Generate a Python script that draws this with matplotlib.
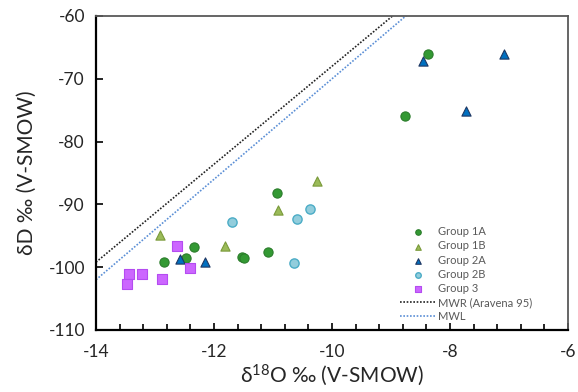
import numpy as np
import matplotlib.pyplot as plt
from matplotlib.ticker import MultipleLocator

plt.rcParams['font.family'] = ['Lato', 'DejaVu Sans']
plt.rcParams['mathtext.default'] = 'regular'
plt.rcParams['axes.unicode_minus'] = False

# ---------------- data ----------------
g1a_x = [-10.93, -12.84, -12.47, -12.34, -11.53, -11.49, -11.08, -8.37, -8.77]
g1a_y = [-88.2, -99.2, -98.6, -96.8, -98.3, -98.6, -97.6, -66.0, -75.9]

g1b_x = [-10.25, -10.92, -12.91, -11.81]
g1b_y = [-86.2, -90.9, -94.8, -96.7]

g2a_x = [-12.58, -12.16, -8.45, -7.09, -7.73]
g2a_y = [-98.7, -99.2, -67.1, -66.1, -75.2]

g2b_x = [-11.70, -10.60, -10.38, -10.64]
g2b_y = [-92.8, -92.3, -90.7, -99.4]

g3_x = [-12.63, -12.40, -13.44, -13.22, -12.88, -13.48]
g3_y = [-96.6, -100.2, -101.1, -101.1, -101.8, -102.7]

# meteoric water lines: dD = slope * d18O + intercept
mwr_slope, mwr_int = 7.8, 10.0   # MWR (Aravena 95)
mwl_slope, mwl_int = 8.0, 10.0   # MWL

# ---------------- plot ----------------
fig = plt.figure(figsize=(5.78, 3.92), dpi=100)
ax = fig.add_axes([96 / 578, 1 - 330 / 392, 472 / 578, 314 / 392])

s = 44
ax.scatter(g1a_x, g1a_y, s=s, marker='o', color='#339933', edgecolor='#2b7d2b',
           linewidth=0.8, label='Group 1A', zorder=3)
ax.scatter(g1b_x, g1b_y, s=s, marker='^', color='#9bbb59', edgecolor='#7a9a3a',
           linewidth=0.8, label='Group 1B', zorder=3)
ax.scatter(g2a_x, g2a_y, s=s, marker='^', color='#0070c0', edgecolor='#1f3864',
           linewidth=0.8, label='Group 2A', zorder=3)
ax.scatter(g2b_x, g2b_y, s=s, marker='o', color='#92cddc', edgecolor='#4bacc6',
           linewidth=1.0, label='Group 2B', zorder=3)
ax.scatter(g3_x, g3_y, s=s, marker='s', color='#cc66ff', edgecolor='#b44cf0',
           linewidth=0.8, label='Group 3', zorder=3)

xl = np.array([-14, -6])
ax.plot(xl, mwr_slope * xl + mwr_int, color='#222222', linestyle=(0, (1, 1)),
        linewidth=1.2, label='MWR (Aravena 95)', zorder=2)
ax.plot(xl, mwl_slope * xl + mwl_int, color='#5b8fd6', linestyle=(0, (1, 1)),
        linewidth=1.2, label='MWL', zorder=2)

ax.set_xlim(-14, -6)
ax.set_ylim(-110, -60)
ax.xaxis.set_major_locator(MultipleLocator(2))
ax.xaxis.set_minor_locator(MultipleLocator(0.4))
ax.yaxis.set_major_locator(MultipleLocator(10))

ax.tick_params(axis='both', which='both', direction='in', colors='black',
               labelcolor='#262626', labelsize=12.5)
ax.tick_params(axis='x', which='major', length=5, width=1.2, pad=10)
ax.tick_params(axis='x', which='minor', length=4, width=1.2)
ax.tick_params(axis='y', which='major', length=5, width=1.2, pad=8)

for side in ['left', 'bottom']:
    ax.spines[side].set_linewidth(1.6)
    ax.spines[side].set_color('black')
for side in ['top', 'right']:
    ax.spines[side].set_linewidth(1.3)
    ax.spines[side].set_color('#595959')

ax.set_xlabel('δ$^{18}$O ‰ (V-SMOW)', fontsize=15, color='#262626', labelpad=2)
ax.set_ylabel('δD ‰ (V-SMOW)', fontsize=15, color='#262626', labelpad=8)

leg = ax.legend(loc='upper left', bbox_to_anchor=(0.644, 0.33), frameon=False,
                fontsize=8, labelcolor='#595959', handlelength=3.2,
                handletextpad=0.25, labelspacing=0.28, markerscale=0.6,
                borderaxespad=0, borderpad=0)

plt.savefig('out.png', dpi=100)
